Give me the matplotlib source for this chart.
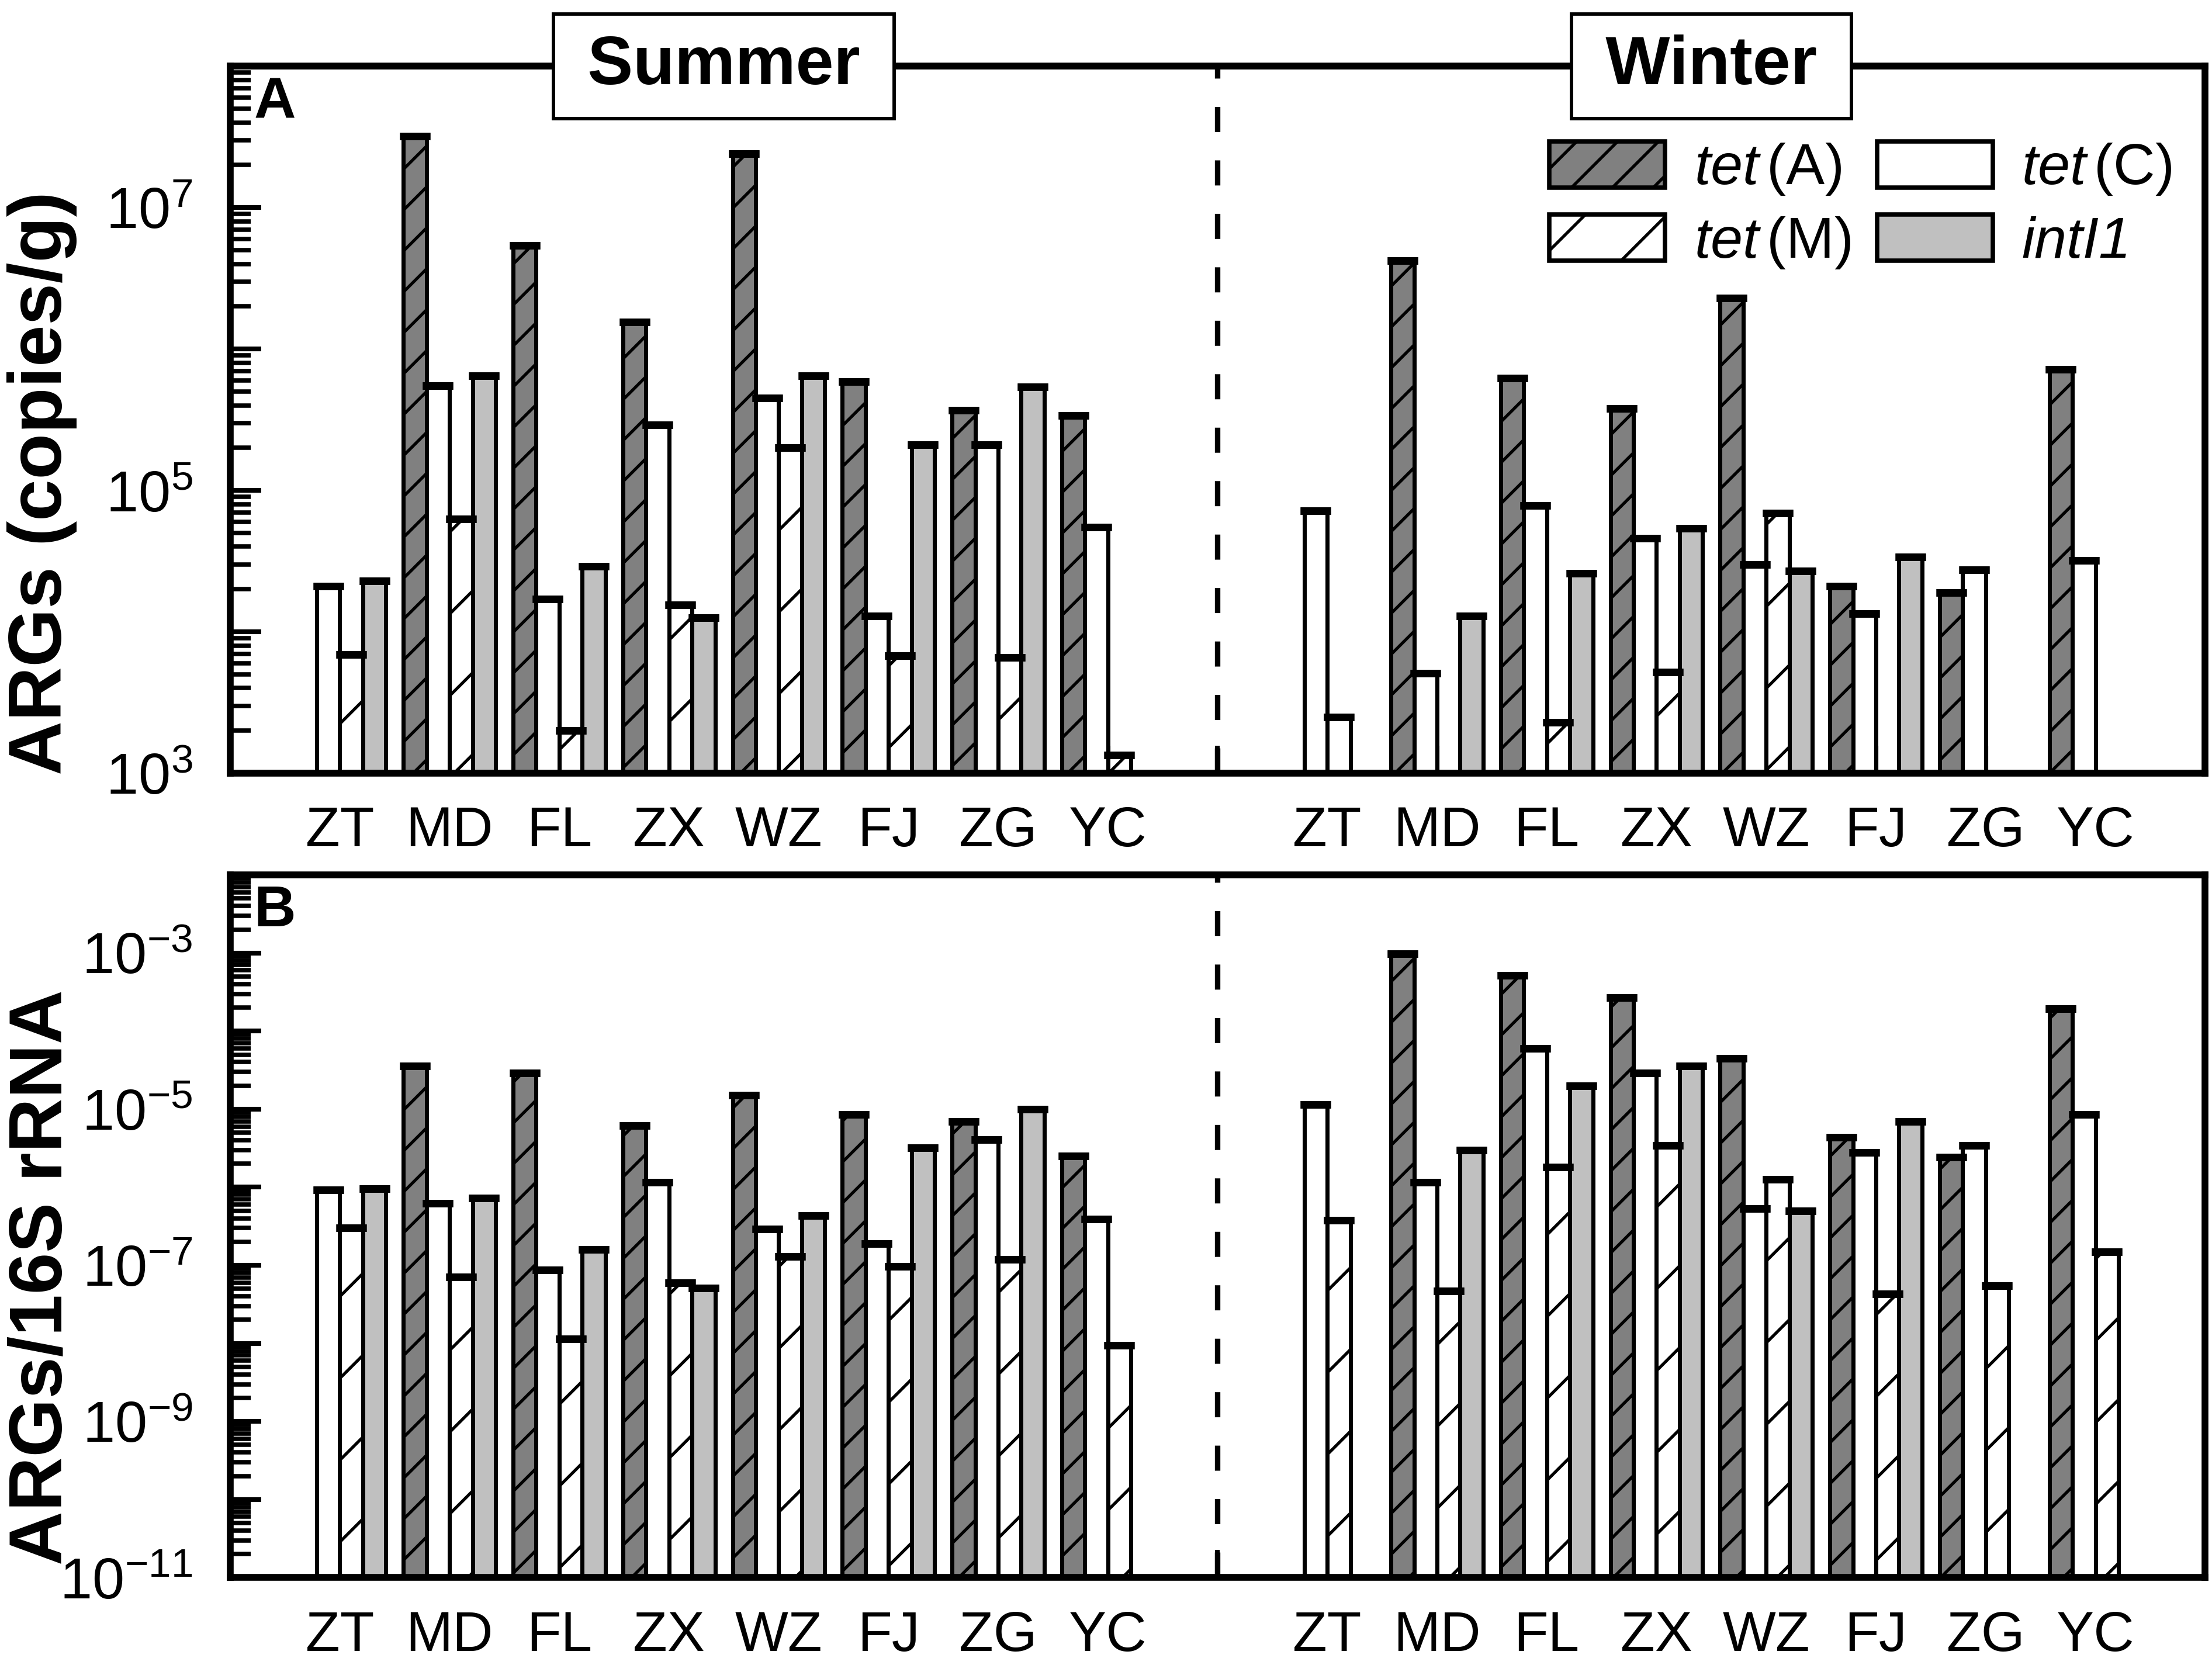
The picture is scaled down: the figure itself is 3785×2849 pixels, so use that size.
import numpy as np
import matplotlib
matplotlib.use("Agg")
import matplotlib.pyplot as plt
import matplotlib.transforms as mtransforms
from matplotlib.patches import Patch
from matplotlib.ticker import LogLocator, NullFormatter

plt.rcParams["font.family"] = ["Liberation Sans", "DejaVu Sans"]
plt.rcParams["mathtext.fontset"] = "custom"
plt.rcParams["mathtext.rm"] = "Liberation Sans"
plt.rcParams["mathtext.it"] = "Liberation Sans:italic"
plt.rcParams["mathtext.bf"] = "Liberation Sans:bold"
plt.rcParams["hatch.linewidth"] = 0.9

nan = np.nan

sites = ["ZT", "MD", "FL", "ZX", "WZ", "FJ", "ZG", "YC"]
seasons = ["Summer", "Winter"]

# panel A: ARGs (copies/g)
abs_summer_tetA = [nan, 3.2e7, 5.4e6, 1.55e6, 2.4e7, 5.9e5, 3.7e5, 3.4e5]
abs_summer_tetC = [2.1e4, 5.5e5, 1.7e4, 2.9e5, 4.5e5, 1.3e4, 2.1e5, 5.5e4]
abs_summer_tetM = [6.9e3, 6.3e4, 2.0e3, 1.55e4, 2.0e5, 6.8e3, 6.6e3, 1.35e3]
abs_summer_intI1 = [2.3e4, 6.5e5, 2.9e4, 1.26e4, 6.5e5, 2.1e5, 5.4e5, nan]

abs_winter_tetA = [nan, 4.2e6, 6.2e5, 3.8e5, 2.3e6, 2.1e4, 1.9e4, 7.2e5]
abs_winter_tetC = [7.2e4, 5.1e3, 7.8e4, 4.6e4, 3.0e4, 1.35e4, 2.75e4, 3.2e4]
abs_winter_tetM = [2.5e3, nan, 2.3e3, 5.2e3, 6.9e4, nan, nan, nan]
abs_winter_intI1 = [nan, 1.3e4, 2.6e4, 5.4e4, 2.7e4, 3.4e4, nan, nan]

# panel B: ARGs / 16S rRNA
rel_summer_tetA = [nan, 3.6e-5, 2.9e-5, 6.2e-6, 1.5e-5, 8.5e-6, 6.9e-6, 2.5e-6]
rel_summer_tetC = [9.3e-7, 6.2e-7, 8.7e-8, 1.15e-6, 2.9e-7, 1.9e-7, 4.1e-6, 3.9e-7]
rel_summer_tetM = [3.0e-7, 7.1e-8, 1.15e-8, 6.0e-8, 1.3e-7, 9.6e-8, 1.2e-7, 9.5e-9]
rel_summer_intI1 = [9.5e-7, 7.3e-7, 1.6e-7, 5.1e-8, 4.3e-7, 3.2e-6, 1.0e-5, nan]

rel_winter_tetA = [nan, 9.8e-4, 5.2e-4, 2.7e-4, 4.5e-5, 4.4e-6, 2.45e-6, 1.95e-4]
rel_winter_tetC = [1.15e-5, 1.15e-6, 6.0e-5, 2.9e-5, 5.3e-7, 2.8e-6, 3.4e-6, 8.5e-6]
rel_winter_tetM = [3.8e-7, 4.7e-8, 1.8e-6, 3.4e-6, 1.26e-6, 4.3e-8, 5.5e-8, 1.5e-7]
rel_winter_intI1 = [nan, 3.0e-6, 2.0e-5, 3.6e-5, 5.0e-7, 6.9e-6, nan, nan]

gene_labels = [r"$\mathit{tet}\,$(A)", r"$\mathit{tet}\,$(C)",
               r"$\mathit{tet}\,$(M)", "intI1"]
a_label_exps = [3, 5, 7]
b_label_exps = [-11, -9, -7, -5, -3]

fills = ["#808080", "white", "white", "#c0c0c0"]
hatches = ["//", None, "/", None]
bar_w = 0.21
offsets = [-1.5 * bar_w, -0.5 * bar_w, 0.5 * bar_w, 1.5 * bar_w]

pos = np.array(list(range(8)) + list(range(9, 17)), dtype=float)
tick_pos = np.arange(17)
tick_lab = sites + [""] + sites


def draw_panel(ax, series, ylo, yhi, label_exps, letter):
    for k, vals in enumerate(series):
        v = np.array(vals, dtype=float)
        m = ~np.isnan(v)
        xs = pos[m] + offsets[k]
        ax.bar(xs, v[m] - ylo, bottom=ylo, width=bar_w, color=fills[k],
               edgecolor="k", linewidth=1.2, hatch=hatches[k], zorder=2)
        ax.errorbar(xs, v[m], yerr=np.zeros(m.sum()), fmt="none", ecolor="k",
                    elinewidth=1.0, capsize=4.4, capthick=2.2, zorder=3)
    ax.set_yscale("log")
    ax.set_ylim(ylo, yhi)
    ax.set_xlim(-1, 17)
    ax.axvline(8, color="k", lw=1.6, ls=(0, (4.6, 5.2)), zorder=1)

    exps = np.arange(int(np.log10(ylo)), int(np.log10(yhi)) + 1)
    ax.set_yticks(10.0 ** exps)
    ax.set_yticklabels([r"$\mathregular{10^{%d}}$" % e if e in label_exps else ""
                        for e in exps], fontsize=17)
    ax.yaxis.set_minor_locator(LogLocator(base=10, subs=np.arange(2, 10), numticks=200))
    ax.yaxis.set_minor_formatter(NullFormatter())
    ax.set_xticks(tick_pos)
    ax.set_xticklabels(tick_lab, fontsize=16.5)
    ax.tick_params(axis="y", which="major", direction="in", length=9, width=1.4,
                   pad=11, right=False)
    ax.tick_params(axis="y", which="minor", direction="in", length=6, width=1.3,
                   right=False)
    ax.tick_params(axis="x", which="both", direction="in", length=8, width=1.4,
                   pad=9.5, top=False)
    for sp in ax.spines.values():
        sp.set_linewidth(2.0)
    ax.text(0.012, 0.986, letter, transform=ax.transAxes, ha="left", va="top",
            fontsize=17, fontweight="bold")


fig = plt.figure(figsize=(3785 / 420, 2849 / 420))
ax_a = fig.add_axes([0.104, 0.5356, 0.8929, 0.4246])
ax_b = fig.add_axes([0.104, 0.0525, 0.8929, 0.4220])

series_a = [abs_summer_tetA + abs_winter_tetA, abs_summer_tetC + abs_winter_tetC,
            abs_summer_tetM + abs_winter_tetM, abs_summer_intI1 + abs_winter_intI1]
series_b = [rel_summer_tetA + rel_winter_tetA, rel_summer_tetC + rel_winter_tetC,
            rel_summer_tetM + rel_winter_tetM, rel_summer_intI1 + rel_winter_intI1]

draw_panel(ax_a, series_a, 1e3, 1e8, a_label_exps, "A")
draw_panel(ax_b, series_b, 1e-11, 1e-2, b_label_exps, "B")

# season boxes on the top frame of panel A
trans = mtransforms.blended_transform_factory(ax_a.transData, ax_a.transAxes)
for xc, name in zip([3.5, 12.5], seasons):
    ax_a.text(xc, 1.0, "\u2009" + name + "\u2009", transform=trans, ha="center",
              va="center", fontsize=20, fontweight="bold", zorder=6, clip_on=False,
              bbox=dict(boxstyle="square,pad=0.3", fc="white", ec="k", lw=1.0))

handles = [Patch(facecolor=fills[k], edgecolor="k", linewidth=1.3, hatch=hatches[k])
           for k in range(4)]
order = [0, 2, 1, 3]
leg = ax_a.legend([handles[i] for i in order], [gene_labels[i] for i in order],
                  ncol=2, loc="upper right", bbox_to_anchor=(0.998, 0.935),
                  frameon=False, fontsize=17, borderpad=0, handlelength=2.0,
                  handleheight=0.85, handletextpad=0.5, columnspacing=0.45,
                  labelspacing=0.3)
leg.get_texts()[3].set_fontstyle("italic")

fig.text(30 / 1568, 0.710, "ARGs (copies/g)", rotation=90, ha="center",
         va="center", fontsize=22, fontweight="bold")
fig.text(30 / 1568, 0.233, "ARGs/16S rRNA", rotation=90, ha="center",
         va="center", fontsize=22, fontweight="bold")

fig.savefig("out.png", dpi=420)
